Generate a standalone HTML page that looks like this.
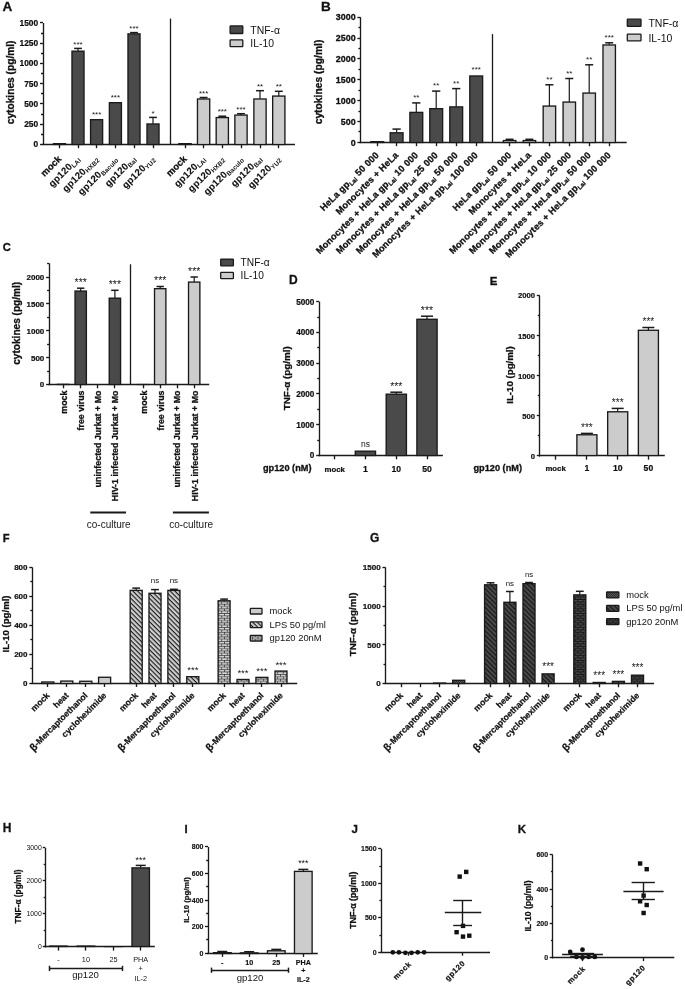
<!DOCTYPE html>
<html><head><meta charset="utf-8"><style>
html,body{margin:0;padding:0;background:#fff;}
svg{display:block;font-family:'Liberation Sans', Arial, sans-serif;filter:blur(0.3px);}
</style></head><body>
<svg width="685" height="989" viewBox="0 0 685 989">
<defs>
<pattern id="hatchL" patternUnits="userSpaceOnUse" width="3.3" height="3.3" patternTransform="rotate(45)">
<rect width="3.3" height="3.3" fill="#cfcfcf"/><rect y="0" width="3.3" height="1.15" fill="#1e1e1e"/></pattern>
<pattern id="hatchD" patternUnits="userSpaceOnUse" width="3.3" height="3.3" patternTransform="rotate(45)">
<rect width="3.3" height="3.3" fill="#4a4a4a"/><rect y="0" width="3.3" height="1.15" fill="#151515"/></pattern>
<pattern id="brickL" patternUnits="userSpaceOnUse" width="5.6" height="4.68">
<rect width="5.6" height="4.68" fill="#2a2a2a"/>
<rect x="0.7" y="0.75" width="4.9" height="1.6" fill="#dedede"/>
<rect x="-2.1" y="3.09" width="4.9" height="1.6" fill="#dedede"/><rect x="3.5" y="3.09" width="4.9" height="1.6" fill="#dedede"/>
</pattern>
<pattern id="brickD" patternUnits="userSpaceOnUse" width="5.4" height="4.68">
<rect width="5.4" height="4.68" fill="#141414"/>
<rect x="0.5" y="0.9" width="4.4" height="1.3" fill="#505050"/>
<rect x="-2.2" y="3.24" width="4.4" height="1.3" fill="#505050"/><rect x="3.2" y="3.24" width="4.4" height="1.3" fill="#505050"/>
</pattern>
<pattern id="dotD" patternUnits="userSpaceOnUse" width="2" height="2">
<rect width="2" height="2" fill="#2a2a2a"/><rect width="1" height="1" fill="#5a5a5a"/><rect x="1" y="1" width="1" height="1" fill="#5a5a5a"/>
</pattern>
</defs>
<rect width="685" height="989" fill="#fff"/>
<text x="2.60" y="10.70" font-size="13.5" font-weight="bold" stroke="#111" stroke-width="0.3" fill="#111">A</text>
<line x1="43.50" y1="23.00" x2="43.50" y2="145.08" stroke="#1a1a1a" stroke-width="1.35"/>
<line x1="40.00" y1="144.50" x2="43.00" y2="144.50" stroke="#1a1a1a" stroke-width="1.35"/>
<text x="38.20" y="147.42" font-size="8.4" font-weight="bold" stroke="#111" stroke-width="0.22" text-anchor="end" fill="#111">0</text>
<line x1="40.00" y1="124.50" x2="43.00" y2="124.50" stroke="#1a1a1a" stroke-width="1.35"/>
<text x="38.20" y="127.19" font-size="8.4" font-weight="bold" stroke="#111" stroke-width="0.22" text-anchor="end" fill="#111">250</text>
<line x1="40.00" y1="103.50" x2="43.00" y2="103.50" stroke="#1a1a1a" stroke-width="1.35"/>
<text x="38.20" y="106.96" font-size="8.4" font-weight="bold" stroke="#111" stroke-width="0.22" text-anchor="end" fill="#111">500</text>
<line x1="40.00" y1="83.50" x2="43.00" y2="83.50" stroke="#1a1a1a" stroke-width="1.35"/>
<text x="38.20" y="86.72" font-size="8.4" font-weight="bold" stroke="#111" stroke-width="0.22" text-anchor="end" fill="#111">750</text>
<line x1="40.00" y1="63.50" x2="43.00" y2="63.50" stroke="#1a1a1a" stroke-width="1.35"/>
<text x="38.20" y="66.49" font-size="8.4" font-weight="bold" stroke="#111" stroke-width="0.22" text-anchor="end" fill="#111">1000</text>
<line x1="40.00" y1="43.50" x2="43.00" y2="43.50" stroke="#1a1a1a" stroke-width="1.35"/>
<text x="38.20" y="46.26" font-size="8.4" font-weight="bold" stroke="#111" stroke-width="0.22" text-anchor="end" fill="#111">1250</text>
<line x1="40.00" y1="22.50" x2="43.00" y2="22.50" stroke="#1a1a1a" stroke-width="1.35"/>
<text x="38.20" y="26.02" font-size="8.4" font-weight="bold" stroke="#111" stroke-width="0.22" text-anchor="end" fill="#111">1500</text>
<line x1="41.00" y1="134.50" x2="43.00" y2="134.50" stroke="#1a1a1a" stroke-width="1.35"/>
<line x1="41.00" y1="114.50" x2="43.00" y2="114.50" stroke="#1a1a1a" stroke-width="1.35"/>
<line x1="41.00" y1="93.50" x2="43.00" y2="93.50" stroke="#1a1a1a" stroke-width="1.35"/>
<line x1="41.00" y1="73.50" x2="43.00" y2="73.50" stroke="#1a1a1a" stroke-width="1.35"/>
<line x1="41.00" y1="53.50" x2="43.00" y2="53.50" stroke="#1a1a1a" stroke-width="1.35"/>
<line x1="41.00" y1="33.50" x2="43.00" y2="33.50" stroke="#1a1a1a" stroke-width="1.35"/>
<text x="14.40" y="82.40" font-size="10.2" font-weight="bold" stroke="#111" stroke-width="0.3" text-anchor="middle" transform="rotate(-90 14.40 82.40)" fill="#111">cytokines (pg/ml)</text>
<line x1="42.33" y1="144.50" x2="295.00" y2="144.50" stroke="#1a1a1a" stroke-width="1.35"/>
<line x1="59.50" y1="144.40" x2="59.50" y2="148.20" stroke="#1a1a1a" stroke-width="1.35"/>
<line x1="78.50" y1="144.40" x2="78.50" y2="148.20" stroke="#1a1a1a" stroke-width="1.35"/>
<line x1="96.50" y1="144.40" x2="96.50" y2="148.20" stroke="#1a1a1a" stroke-width="1.35"/>
<line x1="115.50" y1="144.40" x2="115.50" y2="148.20" stroke="#1a1a1a" stroke-width="1.35"/>
<line x1="134.50" y1="144.40" x2="134.50" y2="148.20" stroke="#1a1a1a" stroke-width="1.35"/>
<line x1="153.50" y1="144.40" x2="153.50" y2="148.20" stroke="#1a1a1a" stroke-width="1.35"/>
<line x1="185.50" y1="144.40" x2="185.50" y2="148.20" stroke="#1a1a1a" stroke-width="1.35"/>
<line x1="203.50" y1="144.40" x2="203.50" y2="148.20" stroke="#1a1a1a" stroke-width="1.35"/>
<line x1="222.50" y1="144.40" x2="222.50" y2="148.20" stroke="#1a1a1a" stroke-width="1.35"/>
<line x1="241.50" y1="144.40" x2="241.50" y2="148.20" stroke="#1a1a1a" stroke-width="1.35"/>
<line x1="260.50" y1="144.40" x2="260.50" y2="148.20" stroke="#1a1a1a" stroke-width="1.35"/>
<line x1="278.50" y1="144.40" x2="278.50" y2="148.20" stroke="#1a1a1a" stroke-width="1.35"/>
<line x1="170.50" y1="18.60" x2="170.50" y2="144.40" stroke="#1a1a1a" stroke-width="1.3"/>
<rect x="52.80" y="143.00" width="13.40" height="2.10" fill="#1a1a1a"/>
<line x1="78.00" y1="48.40" x2="78.00" y2="51.00" stroke="#1a1a1a" stroke-width="1.2"/>
<line x1="74.11" y1="48.40" x2="81.89" y2="48.40" stroke="#1a1a1a" stroke-width="1.5"/>
<rect x="71.30" y="50.50" width="13.40" height="94.60" fill="#1a1a1a"/>
<rect x="72.65" y="51.85" width="10.70" height="92.05" fill="#4a4a4a"/>
<text x="78.00" y="46.56" font-size="8.0" text-anchor="middle" fill="#151515">***</text>
<rect x="89.90" y="119.00" width="13.40" height="26.10" fill="#1a1a1a"/>
<rect x="91.25" y="120.35" width="10.70" height="23.55" fill="#4a4a4a"/>
<text x="96.60" y="117.16" font-size="8.0" text-anchor="middle" fill="#151515">***</text>
<rect x="108.70" y="102.00" width="13.40" height="43.10" fill="#1a1a1a"/>
<rect x="110.05" y="103.35" width="10.70" height="40.55" fill="#4a4a4a"/>
<text x="115.40" y="100.16" font-size="8.0" text-anchor="middle" fill="#151515">***</text>
<line x1="134.00" y1="32.60" x2="134.00" y2="33.70" stroke="#1a1a1a" stroke-width="1.2"/>
<line x1="130.11" y1="32.60" x2="137.89" y2="32.60" stroke="#1a1a1a" stroke-width="1.5"/>
<rect x="127.30" y="33.20" width="13.40" height="111.90" fill="#1a1a1a"/>
<rect x="128.65" y="34.55" width="10.70" height="109.35" fill="#4a4a4a"/>
<text x="134.00" y="30.76" font-size="8.0" text-anchor="middle" fill="#151515">***</text>
<line x1="153.00" y1="117.40" x2="153.00" y2="123.80" stroke="#1a1a1a" stroke-width="1.2"/>
<line x1="149.11" y1="117.40" x2="156.89" y2="117.40" stroke="#1a1a1a" stroke-width="1.5"/>
<rect x="146.30" y="123.30" width="13.40" height="21.80" fill="#1a1a1a"/>
<rect x="147.65" y="124.65" width="10.70" height="19.25" fill="#4a4a4a"/>
<text x="153.00" y="115.56" font-size="8.0" text-anchor="middle" fill="#151515">*</text>
<rect x="178.20" y="143.00" width="13.60" height="2.10" fill="#1a1a1a"/>
<line x1="203.60" y1="97.50" x2="203.60" y2="98.80" stroke="#1a1a1a" stroke-width="1.2"/>
<line x1="199.66" y1="97.50" x2="207.54" y2="97.50" stroke="#1a1a1a" stroke-width="1.5"/>
<rect x="196.80" y="98.30" width="13.60" height="46.80" fill="#1a1a1a"/>
<rect x="198.15" y="99.65" width="10.90" height="44.25" fill="#cccccc"/>
<text x="203.60" y="95.66" font-size="8.0" text-anchor="middle" fill="#151515">***</text>
<line x1="222.30" y1="116.20" x2="222.30" y2="117.40" stroke="#1a1a1a" stroke-width="1.2"/>
<line x1="218.36" y1="116.20" x2="226.24" y2="116.20" stroke="#1a1a1a" stroke-width="1.5"/>
<rect x="215.50" y="116.90" width="13.60" height="28.20" fill="#1a1a1a"/>
<rect x="216.85" y="118.25" width="10.90" height="25.65" fill="#cccccc"/>
<text x="222.30" y="114.36" font-size="8.0" text-anchor="middle" fill="#151515">***</text>
<line x1="241.00" y1="113.70" x2="241.00" y2="114.90" stroke="#1a1a1a" stroke-width="1.2"/>
<line x1="237.06" y1="113.70" x2="244.94" y2="113.70" stroke="#1a1a1a" stroke-width="1.5"/>
<rect x="234.20" y="114.40" width="13.60" height="30.70" fill="#1a1a1a"/>
<rect x="235.55" y="115.75" width="10.90" height="28.15" fill="#cccccc"/>
<text x="241.00" y="111.86" font-size="8.0" text-anchor="middle" fill="#151515">***</text>
<line x1="260.00" y1="90.70" x2="260.00" y2="98.80" stroke="#1a1a1a" stroke-width="1.2"/>
<line x1="256.06" y1="90.70" x2="263.94" y2="90.70" stroke="#1a1a1a" stroke-width="1.5"/>
<rect x="253.20" y="98.30" width="13.60" height="46.80" fill="#1a1a1a"/>
<rect x="254.55" y="99.65" width="10.90" height="44.25" fill="#cccccc"/>
<text x="260.00" y="88.86" font-size="8.0" text-anchor="middle" fill="#151515">**</text>
<line x1="278.80" y1="91.30" x2="278.80" y2="95.90" stroke="#1a1a1a" stroke-width="1.2"/>
<line x1="274.86" y1="91.30" x2="282.74" y2="91.30" stroke="#1a1a1a" stroke-width="1.5"/>
<rect x="272.00" y="95.40" width="13.60" height="49.70" fill="#1a1a1a"/>
<rect x="273.35" y="96.75" width="10.90" height="47.15" fill="#cccccc"/>
<text x="278.80" y="89.46" font-size="8.0" text-anchor="middle" fill="#151515">**</text>
<rect x="230.10" y="25.90" width="12.70" height="7.60" fill="#4a4a4a" stroke="#1a1a1a" stroke-width="1.3" rx="0.6"/>
<rect x="230.10" y="39.80" width="12.70" height="6.80" fill="#cccccc" stroke="#1a1a1a" stroke-width="1.3" rx="0.6"/>
<text x="250.30" y="33.60" font-size="10.4" fill="#111">TNF-α</text>
<text x="250.30" y="47.30" font-size="10.4" fill="#111">IL-10</text>
<text x="61.90" y="159.60" font-size="9.0" font-weight="bold" stroke="#111" stroke-width="0.3" text-anchor="end" transform="rotate(-45 61.90 159.60)" fill="#111"><tspan font-size="9.4" dy="0">mock</tspan></text>
<text x="80.40" y="159.60" font-size="9.0" font-weight="bold" stroke="#111" stroke-width="0.3" text-anchor="end" transform="rotate(-45 80.40 159.60)" fill="#111"><tspan font-size="9.6" dy="0" stroke-width="0.1" letter-spacing="0.25">gp120</tspan><tspan font-size="6.4" dy="1.6" stroke-width="0" letter-spacing="0.1">LAI</tspan></text>
<text x="99.00" y="159.60" font-size="9.0" font-weight="bold" stroke="#111" stroke-width="0.3" text-anchor="end" transform="rotate(-45 99.00 159.60)" fill="#111"><tspan font-size="9.6" dy="0" stroke-width="0.1" letter-spacing="0.25">gp120</tspan><tspan font-size="6.4" dy="1.6" stroke-width="0" letter-spacing="0.1">HXB2</tspan></text>
<text x="117.80" y="159.60" font-size="9.0" font-weight="bold" stroke="#111" stroke-width="0.3" text-anchor="end" transform="rotate(-45 117.80 159.60)" fill="#111"><tspan font-size="9.6" dy="0" stroke-width="0.1" letter-spacing="0.25">gp120</tspan><tspan font-size="6.4" dy="1.6" stroke-width="0" letter-spacing="0.1">Baculo</tspan></text>
<text x="136.40" y="159.60" font-size="9.0" font-weight="bold" stroke="#111" stroke-width="0.3" text-anchor="end" transform="rotate(-45 136.40 159.60)" fill="#111"><tspan font-size="9.6" dy="0" stroke-width="0.1" letter-spacing="0.25">gp120</tspan><tspan font-size="6.4" dy="1.6" stroke-width="0" letter-spacing="0.1">Bal</tspan></text>
<text x="155.40" y="159.60" font-size="9.0" font-weight="bold" stroke="#111" stroke-width="0.3" text-anchor="end" transform="rotate(-45 155.40 159.60)" fill="#111"><tspan font-size="9.6" dy="0" stroke-width="0.1" letter-spacing="0.25">gp120</tspan><tspan font-size="6.4" dy="1.6" stroke-width="0" letter-spacing="0.1">YU2</tspan></text>
<text x="187.40" y="159.60" font-size="9.0" font-weight="bold" stroke="#111" stroke-width="0.3" text-anchor="end" transform="rotate(-45 187.40 159.60)" fill="#111"><tspan font-size="9.4" dy="0">mock</tspan></text>
<text x="206.00" y="159.60" font-size="9.0" font-weight="bold" stroke="#111" stroke-width="0.3" text-anchor="end" transform="rotate(-45 206.00 159.60)" fill="#111"><tspan font-size="9.6" dy="0" stroke-width="0.1" letter-spacing="0.25">gp120</tspan><tspan font-size="6.4" dy="1.6" stroke-width="0" letter-spacing="0.1">LAI</tspan></text>
<text x="224.70" y="159.60" font-size="9.0" font-weight="bold" stroke="#111" stroke-width="0.3" text-anchor="end" transform="rotate(-45 224.70 159.60)" fill="#111"><tspan font-size="9.6" dy="0" stroke-width="0.1" letter-spacing="0.25">gp120</tspan><tspan font-size="6.4" dy="1.6" stroke-width="0" letter-spacing="0.1">HXB2</tspan></text>
<text x="243.40" y="159.60" font-size="9.0" font-weight="bold" stroke="#111" stroke-width="0.3" text-anchor="end" transform="rotate(-45 243.40 159.60)" fill="#111"><tspan font-size="9.6" dy="0" stroke-width="0.1" letter-spacing="0.25">gp120</tspan><tspan font-size="6.4" dy="1.6" stroke-width="0" letter-spacing="0.1">Baculo</tspan></text>
<text x="262.40" y="159.60" font-size="9.0" font-weight="bold" stroke="#111" stroke-width="0.3" text-anchor="end" transform="rotate(-45 262.40 159.60)" fill="#111"><tspan font-size="9.6" dy="0" stroke-width="0.1" letter-spacing="0.25">gp120</tspan><tspan font-size="6.4" dy="1.6" stroke-width="0" letter-spacing="0.1">Bal</tspan></text>
<text x="281.20" y="159.60" font-size="9.0" font-weight="bold" stroke="#111" stroke-width="0.3" text-anchor="end" transform="rotate(-45 281.20 159.60)" fill="#111"><tspan font-size="9.6" dy="0" stroke-width="0.1" letter-spacing="0.25">gp120</tspan><tspan font-size="6.4" dy="1.6" stroke-width="0" letter-spacing="0.1">YU2</tspan></text>
<text x="321.00" y="10.70" font-size="13.5" font-weight="bold" stroke="#111" stroke-width="0.3" fill="#111">B</text>
<line x1="360.50" y1="17.20" x2="360.50" y2="143.08" stroke="#1a1a1a" stroke-width="1.35"/>
<line x1="357.40" y1="142.50" x2="360.40" y2="142.50" stroke="#1a1a1a" stroke-width="1.35"/>
<text x="355.60" y="145.60" font-size="8.9" font-weight="bold" stroke="#111" stroke-width="0.3" text-anchor="end" fill="#111">0</text>
<line x1="357.40" y1="121.50" x2="360.40" y2="121.50" stroke="#1a1a1a" stroke-width="1.35"/>
<text x="355.60" y="124.74" font-size="8.9" font-weight="bold" stroke="#111" stroke-width="0.3" text-anchor="end" fill="#111">500</text>
<line x1="357.40" y1="100.50" x2="360.40" y2="100.50" stroke="#1a1a1a" stroke-width="1.35"/>
<text x="355.60" y="103.87" font-size="8.9" font-weight="bold" stroke="#111" stroke-width="0.3" text-anchor="end" fill="#111">1000</text>
<line x1="357.40" y1="79.50" x2="360.40" y2="79.50" stroke="#1a1a1a" stroke-width="1.35"/>
<text x="355.60" y="83.00" font-size="8.9" font-weight="bold" stroke="#111" stroke-width="0.3" text-anchor="end" fill="#111">1500</text>
<line x1="357.40" y1="58.50" x2="360.40" y2="58.50" stroke="#1a1a1a" stroke-width="1.35"/>
<text x="355.60" y="62.14" font-size="8.9" font-weight="bold" stroke="#111" stroke-width="0.3" text-anchor="end" fill="#111">2000</text>
<line x1="357.40" y1="38.50" x2="360.40" y2="38.50" stroke="#1a1a1a" stroke-width="1.35"/>
<text x="355.60" y="41.27" font-size="8.9" font-weight="bold" stroke="#111" stroke-width="0.3" text-anchor="end" fill="#111">2500</text>
<line x1="357.40" y1="17.50" x2="360.40" y2="17.50" stroke="#1a1a1a" stroke-width="1.35"/>
<text x="355.60" y="20.40" font-size="8.9" font-weight="bold" stroke="#111" stroke-width="0.3" text-anchor="end" fill="#111">3000</text>
<line x1="358.40" y1="131.50" x2="360.40" y2="131.50" stroke="#1a1a1a" stroke-width="1.35"/>
<line x1="358.40" y1="111.50" x2="360.40" y2="111.50" stroke="#1a1a1a" stroke-width="1.35"/>
<line x1="358.40" y1="90.50" x2="360.40" y2="90.50" stroke="#1a1a1a" stroke-width="1.35"/>
<line x1="358.40" y1="69.50" x2="360.40" y2="69.50" stroke="#1a1a1a" stroke-width="1.35"/>
<line x1="358.40" y1="48.50" x2="360.40" y2="48.50" stroke="#1a1a1a" stroke-width="1.35"/>
<line x1="358.40" y1="27.50" x2="360.40" y2="27.50" stroke="#1a1a1a" stroke-width="1.35"/>
<text x="322.10" y="82.00" font-size="10.3" font-weight="bold" stroke="#111" stroke-width="0.3" text-anchor="middle" transform="rotate(-90 322.10 82.00)" fill="#111">cytokines (pg/ml)</text>
<line x1="359.72" y1="142.50" x2="626.70" y2="142.50" stroke="#1a1a1a" stroke-width="1.35"/>
<line x1="377.50" y1="142.40" x2="377.50" y2="146.20" stroke="#1a1a1a" stroke-width="1.35"/>
<line x1="396.50" y1="142.40" x2="396.50" y2="146.20" stroke="#1a1a1a" stroke-width="1.35"/>
<line x1="416.50" y1="142.40" x2="416.50" y2="146.20" stroke="#1a1a1a" stroke-width="1.35"/>
<line x1="436.50" y1="142.40" x2="436.50" y2="146.20" stroke="#1a1a1a" stroke-width="1.35"/>
<line x1="456.50" y1="142.40" x2="456.50" y2="146.20" stroke="#1a1a1a" stroke-width="1.35"/>
<line x1="476.50" y1="142.40" x2="476.50" y2="146.20" stroke="#1a1a1a" stroke-width="1.35"/>
<line x1="509.50" y1="142.40" x2="509.50" y2="146.20" stroke="#1a1a1a" stroke-width="1.35"/>
<line x1="529.50" y1="142.40" x2="529.50" y2="146.20" stroke="#1a1a1a" stroke-width="1.35"/>
<line x1="549.50" y1="142.40" x2="549.50" y2="146.20" stroke="#1a1a1a" stroke-width="1.35"/>
<line x1="569.50" y1="142.40" x2="569.50" y2="146.20" stroke="#1a1a1a" stroke-width="1.35"/>
<line x1="589.50" y1="142.40" x2="589.50" y2="146.20" stroke="#1a1a1a" stroke-width="1.35"/>
<line x1="609.50" y1="142.40" x2="609.50" y2="146.20" stroke="#1a1a1a" stroke-width="1.35"/>
<line x1="492.50" y1="34.10" x2="492.50" y2="142.40" stroke="#1a1a1a" stroke-width="1.3"/>
<rect x="370.10" y="141.00" width="14.20" height="2.10" fill="#1a1a1a"/>
<line x1="396.60" y1="129.10" x2="396.60" y2="132.60" stroke="#1a1a1a" stroke-width="1.2"/>
<line x1="392.48" y1="129.10" x2="400.72" y2="129.10" stroke="#1a1a1a" stroke-width="1.5"/>
<rect x="389.50" y="132.10" width="14.20" height="11.00" fill="#1a1a1a"/>
<rect x="390.85" y="133.45" width="11.50" height="8.45" fill="#4a4a4a"/>
<line x1="416.30" y1="102.90" x2="416.30" y2="112.20" stroke="#1a1a1a" stroke-width="1.2"/>
<line x1="412.18" y1="102.90" x2="420.42" y2="102.90" stroke="#1a1a1a" stroke-width="1.5"/>
<rect x="409.20" y="111.70" width="14.20" height="31.40" fill="#1a1a1a"/>
<rect x="410.55" y="113.05" width="11.50" height="28.85" fill="#4a4a4a"/>
<text x="416.30" y="99.96" font-size="8.0" text-anchor="middle" fill="#151515">**</text>
<line x1="436.20" y1="91.10" x2="436.20" y2="108.50" stroke="#1a1a1a" stroke-width="1.2"/>
<line x1="432.08" y1="91.10" x2="440.32" y2="91.10" stroke="#1a1a1a" stroke-width="1.5"/>
<rect x="429.10" y="108.00" width="14.20" height="35.10" fill="#1a1a1a"/>
<rect x="430.45" y="109.35" width="11.50" height="32.55" fill="#4a4a4a"/>
<text x="436.20" y="88.16" font-size="8.0" text-anchor="middle" fill="#151515">**</text>
<line x1="456.20" y1="88.60" x2="456.20" y2="106.70" stroke="#1a1a1a" stroke-width="1.2"/>
<line x1="452.08" y1="88.60" x2="460.32" y2="88.60" stroke="#1a1a1a" stroke-width="1.5"/>
<rect x="449.10" y="106.20" width="14.20" height="36.90" fill="#1a1a1a"/>
<rect x="450.45" y="107.55" width="11.50" height="34.35" fill="#4a4a4a"/>
<text x="456.20" y="85.66" font-size="8.0" text-anchor="middle" fill="#151515">**</text>
<rect x="469.10" y="75.30" width="14.20" height="67.80" fill="#1a1a1a"/>
<rect x="470.45" y="76.65" width="11.50" height="65.25" fill="#4a4a4a"/>
<text x="476.20" y="72.36" font-size="8.0" text-anchor="middle" fill="#151515">***</text>
<line x1="509.60" y1="139.30" x2="509.60" y2="140.40" stroke="#1a1a1a" stroke-width="1.2"/>
<line x1="505.60" y1="139.30" x2="513.60" y2="139.30" stroke="#1a1a1a" stroke-width="1.5"/>
<rect x="502.70" y="139.90" width="13.80" height="3.20" fill="#1a1a1a"/>
<rect x="504.05" y="141.25" width="11.10" height="0.65" fill="#cccccc"/>
<line x1="529.40" y1="139.30" x2="529.40" y2="140.40" stroke="#1a1a1a" stroke-width="1.2"/>
<line x1="525.40" y1="139.30" x2="533.40" y2="139.30" stroke="#1a1a1a" stroke-width="1.5"/>
<rect x="522.50" y="139.90" width="13.80" height="3.20" fill="#1a1a1a"/>
<rect x="523.85" y="141.25" width="11.10" height="0.65" fill="#cccccc"/>
<line x1="549.40" y1="84.80" x2="549.40" y2="105.90" stroke="#1a1a1a" stroke-width="1.2"/>
<line x1="545.40" y1="84.80" x2="553.40" y2="84.80" stroke="#1a1a1a" stroke-width="1.5"/>
<rect x="542.50" y="105.40" width="13.80" height="37.70" fill="#1a1a1a"/>
<rect x="543.85" y="106.75" width="11.10" height="35.15" fill="#cccccc"/>
<text x="549.40" y="81.86" font-size="8.0" text-anchor="middle" fill="#151515">**</text>
<line x1="569.30" y1="78.50" x2="569.30" y2="101.90" stroke="#1a1a1a" stroke-width="1.2"/>
<line x1="565.30" y1="78.50" x2="573.30" y2="78.50" stroke="#1a1a1a" stroke-width="1.5"/>
<rect x="562.40" y="101.40" width="13.80" height="41.70" fill="#1a1a1a"/>
<rect x="563.75" y="102.75" width="11.10" height="39.15" fill="#cccccc"/>
<text x="569.30" y="75.56" font-size="8.0" text-anchor="middle" fill="#151515">**</text>
<line x1="589.20" y1="64.80" x2="589.20" y2="92.90" stroke="#1a1a1a" stroke-width="1.2"/>
<line x1="585.20" y1="64.80" x2="593.20" y2="64.80" stroke="#1a1a1a" stroke-width="1.5"/>
<rect x="582.30" y="92.40" width="13.80" height="50.70" fill="#1a1a1a"/>
<rect x="583.65" y="93.75" width="11.10" height="48.15" fill="#cccccc"/>
<text x="589.20" y="61.86" font-size="8.0" text-anchor="middle" fill="#151515">**</text>
<line x1="609.20" y1="42.80" x2="609.20" y2="44.80" stroke="#1a1a1a" stroke-width="1.2"/>
<line x1="605.20" y1="42.80" x2="613.20" y2="42.80" stroke="#1a1a1a" stroke-width="1.5"/>
<rect x="602.30" y="44.30" width="13.80" height="98.80" fill="#1a1a1a"/>
<rect x="603.65" y="45.65" width="11.10" height="96.25" fill="#cccccc"/>
<text x="609.20" y="39.86" font-size="8.0" text-anchor="middle" fill="#151515">***</text>
<rect x="627.30" y="19.20" width="13.70" height="7.10" fill="#4a4a4a" stroke="#1a1a1a" stroke-width="1.3" rx="0.6"/>
<rect x="627.30" y="34.20" width="13.70" height="6.70" fill="#cccccc" stroke="#1a1a1a" stroke-width="1.3" rx="0.6"/>
<text x="648.40" y="26.90" font-size="10.5" fill="#111">TNF-α</text>
<text x="648.40" y="41.60" font-size="10.5" fill="#111">IL-10</text>
<text x="379.60" y="155.70" font-size="9.2" font-weight="bold" stroke="#111" stroke-width="0.3" text-anchor="end" transform="rotate(-45 379.60 155.70)" fill="#111" letter-spacing="0.2">HeLa gp<tspan font-size="6.0" dy="1.8">Lai</tspan><tspan font-size="9.2" dy="-1.8"> 50 000</tspan></text>
<text x="399.00" y="155.70" font-size="9.2" font-weight="bold" stroke="#111" stroke-width="0.3" text-anchor="end" transform="rotate(-45 399.00 155.70)" fill="#111" letter-spacing="0.2">Monocytes + HeLa</text>
<text x="418.70" y="155.70" font-size="9.2" font-weight="bold" stroke="#111" stroke-width="0.3" text-anchor="end" transform="rotate(-45 418.70 155.70)" fill="#111" letter-spacing="0.2">Monocytes + HeLa gp<tspan font-size="6.0" dy="1.8">Lai</tspan><tspan font-size="9.2" dy="-1.8"> 10 000</tspan></text>
<text x="438.60" y="155.70" font-size="9.2" font-weight="bold" stroke="#111" stroke-width="0.3" text-anchor="end" transform="rotate(-45 438.60 155.70)" fill="#111" letter-spacing="0.2">Monocytes + HeLa gp<tspan font-size="6.0" dy="1.8">Lai</tspan><tspan font-size="9.2" dy="-1.8"> 25 000</tspan></text>
<text x="458.60" y="155.70" font-size="9.2" font-weight="bold" stroke="#111" stroke-width="0.3" text-anchor="end" transform="rotate(-45 458.60 155.70)" fill="#111" letter-spacing="0.2">Monocytes + HeLa gp<tspan font-size="6.0" dy="1.8">Lai</tspan><tspan font-size="9.2" dy="-1.8"> 50 000</tspan></text>
<text x="478.60" y="155.70" font-size="9.2" font-weight="bold" stroke="#111" stroke-width="0.3" text-anchor="end" transform="rotate(-45 478.60 155.70)" fill="#111" letter-spacing="0.2">Monocytes + HeLa gp<tspan font-size="6.0" dy="1.8">Lai</tspan><tspan font-size="9.2" dy="-1.8"> 100 000</tspan></text>
<text x="512.00" y="155.70" font-size="9.2" font-weight="bold" stroke="#111" stroke-width="0.3" text-anchor="end" transform="rotate(-45 512.00 155.70)" fill="#111" letter-spacing="0.2">HeLa gp<tspan font-size="6.0" dy="1.8">Lai</tspan><tspan font-size="9.2" dy="-1.8"> 50 000</tspan></text>
<text x="531.80" y="155.70" font-size="9.2" font-weight="bold" stroke="#111" stroke-width="0.3" text-anchor="end" transform="rotate(-45 531.80 155.70)" fill="#111" letter-spacing="0.2">Monocytes + HeLa</text>
<text x="551.80" y="155.70" font-size="9.2" font-weight="bold" stroke="#111" stroke-width="0.3" text-anchor="end" transform="rotate(-45 551.80 155.70)" fill="#111" letter-spacing="0.2">Monocytes + HeLa gp<tspan font-size="6.0" dy="1.8">Lai</tspan><tspan font-size="9.2" dy="-1.8"> 10 000</tspan></text>
<text x="571.70" y="155.70" font-size="9.2" font-weight="bold" stroke="#111" stroke-width="0.3" text-anchor="end" transform="rotate(-45 571.70 155.70)" fill="#111" letter-spacing="0.2">Monocytes + HeLa gp<tspan font-size="6.0" dy="1.8">Lai</tspan><tspan font-size="9.2" dy="-1.8"> 25 000</tspan></text>
<text x="591.60" y="155.70" font-size="9.2" font-weight="bold" stroke="#111" stroke-width="0.3" text-anchor="end" transform="rotate(-45 591.60 155.70)" fill="#111" letter-spacing="0.2">Monocytes + HeLa gp<tspan font-size="6.0" dy="1.8">Lai</tspan><tspan font-size="9.2" dy="-1.8"> 50 000</tspan></text>
<text x="611.60" y="155.70" font-size="9.2" font-weight="bold" stroke="#111" stroke-width="0.3" text-anchor="end" transform="rotate(-45 611.60 155.70)" fill="#111" letter-spacing="0.2">Monocytes + HeLa gp<tspan font-size="6.0" dy="1.8">Lai</tspan><tspan font-size="9.2" dy="-1.8"> 100 000</tspan></text>
<text x="2.70" y="250.80" font-size="11.2" font-weight="bold" stroke="#111" stroke-width="0.3" fill="#111">C</text>
<line x1="49.50" y1="263.30" x2="49.50" y2="385.18" stroke="#1a1a1a" stroke-width="1.35"/>
<line x1="46.10" y1="384.50" x2="49.10" y2="384.50" stroke="#1a1a1a" stroke-width="1.35"/>
<text x="44.30" y="387.38" font-size="8.0" font-weight="bold" stroke="#111" stroke-width="0.22" text-anchor="end" fill="#111">0</text>
<line x1="46.10" y1="357.50" x2="49.10" y2="357.50" stroke="#1a1a1a" stroke-width="1.35"/>
<text x="44.30" y="360.50" font-size="8.0" font-weight="bold" stroke="#111" stroke-width="0.22" text-anchor="end" fill="#111">500</text>
<line x1="46.10" y1="330.50" x2="49.10" y2="330.50" stroke="#1a1a1a" stroke-width="1.35"/>
<text x="44.30" y="333.63" font-size="8.0" font-weight="bold" stroke="#111" stroke-width="0.22" text-anchor="end" fill="#111">1000</text>
<line x1="46.10" y1="303.50" x2="49.10" y2="303.50" stroke="#1a1a1a" stroke-width="1.35"/>
<text x="44.30" y="306.75" font-size="8.0" font-weight="bold" stroke="#111" stroke-width="0.22" text-anchor="end" fill="#111">1500</text>
<line x1="46.10" y1="277.50" x2="49.10" y2="277.50" stroke="#1a1a1a" stroke-width="1.35"/>
<text x="44.30" y="279.88" font-size="8.0" font-weight="bold" stroke="#111" stroke-width="0.22" text-anchor="end" fill="#111">2000</text>
<line x1="47.10" y1="371.50" x2="49.10" y2="371.50" stroke="#1a1a1a" stroke-width="1.35"/>
<line x1="47.10" y1="344.50" x2="49.10" y2="344.50" stroke="#1a1a1a" stroke-width="1.35"/>
<line x1="47.10" y1="317.50" x2="49.10" y2="317.50" stroke="#1a1a1a" stroke-width="1.35"/>
<line x1="47.10" y1="290.50" x2="49.10" y2="290.50" stroke="#1a1a1a" stroke-width="1.35"/>
<line x1="47.10" y1="263.50" x2="49.10" y2="263.50" stroke="#1a1a1a" stroke-width="1.35"/>
<text x="19.90" y="323.30" font-size="10.1" font-weight="bold" stroke="#111" stroke-width="0.3" text-anchor="middle" transform="rotate(-90 19.90 323.30)" fill="#111">cytokines (pg/ml)</text>
<line x1="48.43" y1="384.50" x2="209.20" y2="384.50" stroke="#1a1a1a" stroke-width="1.35"/>
<line x1="63.50" y1="384.50" x2="63.50" y2="388.30" stroke="#1a1a1a" stroke-width="1.35"/>
<line x1="80.50" y1="384.50" x2="80.50" y2="388.30" stroke="#1a1a1a" stroke-width="1.35"/>
<line x1="97.50" y1="384.50" x2="97.50" y2="388.30" stroke="#1a1a1a" stroke-width="1.35"/>
<line x1="114.50" y1="384.50" x2="114.50" y2="388.30" stroke="#1a1a1a" stroke-width="1.35"/>
<line x1="143.50" y1="384.50" x2="143.50" y2="388.30" stroke="#1a1a1a" stroke-width="1.35"/>
<line x1="160.50" y1="384.50" x2="160.50" y2="388.30" stroke="#1a1a1a" stroke-width="1.35"/>
<line x1="177.50" y1="384.50" x2="177.50" y2="388.30" stroke="#1a1a1a" stroke-width="1.35"/>
<line x1="194.50" y1="384.50" x2="194.50" y2="388.30" stroke="#1a1a1a" stroke-width="1.35"/>
<line x1="130.50" y1="264.30" x2="130.50" y2="384.50" stroke="#1a1a1a" stroke-width="1.3"/>
<rect x="56.85" y="383.70" width="12.70" height="1.40" fill="#1a1a1a"/>
<line x1="80.70" y1="288.20" x2="80.70" y2="290.90" stroke="#1a1a1a" stroke-width="1.2"/>
<line x1="77.02" y1="288.20" x2="84.38" y2="288.20" stroke="#1a1a1a" stroke-width="1.5"/>
<rect x="74.35" y="290.40" width="12.70" height="94.70" fill="#1a1a1a"/>
<rect x="75.70" y="291.75" width="10.00" height="92.15" fill="#4a4a4a"/>
<text x="80.70" y="286.16" font-size="10.5" text-anchor="middle" fill="#151515">***</text>
<line x1="114.90" y1="290.30" x2="114.90" y2="298.00" stroke="#1a1a1a" stroke-width="1.2"/>
<line x1="111.22" y1="290.30" x2="118.58" y2="290.30" stroke="#1a1a1a" stroke-width="1.5"/>
<rect x="108.55" y="297.50" width="12.70" height="87.60" fill="#1a1a1a"/>
<rect x="109.90" y="298.85" width="10.00" height="85.05" fill="#4a4a4a"/>
<text x="114.90" y="288.26" font-size="10.5" text-anchor="middle" fill="#151515">***</text>
<rect x="136.85" y="383.90" width="12.70" height="1.20" fill="#1a1a1a"/>
<line x1="160.20" y1="286.50" x2="160.20" y2="288.50" stroke="#1a1a1a" stroke-width="1.2"/>
<line x1="156.52" y1="286.50" x2="163.88" y2="286.50" stroke="#1a1a1a" stroke-width="1.5"/>
<rect x="153.85" y="288.00" width="12.70" height="97.10" fill="#1a1a1a"/>
<rect x="155.20" y="289.35" width="10.00" height="94.55" fill="#cccccc"/>
<text x="160.20" y="284.46" font-size="10.5" text-anchor="middle" fill="#151515">***</text>
<line x1="194.20" y1="277.00" x2="194.20" y2="281.90" stroke="#1a1a1a" stroke-width="1.2"/>
<line x1="190.52" y1="277.00" x2="197.88" y2="277.00" stroke="#1a1a1a" stroke-width="1.5"/>
<rect x="187.85" y="281.40" width="12.70" height="103.70" fill="#1a1a1a"/>
<rect x="189.20" y="282.75" width="10.00" height="101.15" fill="#cccccc"/>
<text x="194.20" y="274.96" font-size="10.5" text-anchor="middle" fill="#151515">***</text>
<rect x="220.70" y="259.10" width="12.70" height="6.80" fill="#4a4a4a" stroke="#1a1a1a" stroke-width="1.3" rx="0.6"/>
<rect x="220.70" y="272.40" width="12.70" height="6.30" fill="#cccccc" stroke="#1a1a1a" stroke-width="1.3" rx="0.6"/>
<text x="240.60" y="266.30" font-size="10.2" fill="#111">TNF-α</text>
<text x="240.60" y="279.10" font-size="10.2" fill="#111">IL-10</text>
<text x="66.60" y="390.50" font-size="8.9" font-weight="bold" stroke="#111" stroke-width="0.3" text-anchor="end" transform="rotate(-90 66.60 390.50)" fill="#111">mock</text>
<text x="84.10" y="390.50" font-size="8.9" font-weight="bold" stroke="#111" stroke-width="0.3" text-anchor="end" transform="rotate(-90 84.10 390.50)" fill="#111">free virus</text>
<text x="101.30" y="390.50" font-size="8.9" font-weight="bold" stroke="#111" stroke-width="0.3" text-anchor="end" transform="rotate(-90 101.30 390.50)" fill="#111">uninfected Jurkat + Mo</text>
<text x="118.30" y="390.50" font-size="8.9" font-weight="bold" stroke="#111" stroke-width="0.3" text-anchor="end" transform="rotate(-90 118.30 390.50)" fill="#111">HIV-1 infected Jurkat + Mo</text>
<text x="146.60" y="390.50" font-size="8.9" font-weight="bold" stroke="#111" stroke-width="0.3" text-anchor="end" transform="rotate(-90 146.60 390.50)" fill="#111">mock</text>
<text x="163.60" y="390.50" font-size="8.9" font-weight="bold" stroke="#111" stroke-width="0.3" text-anchor="end" transform="rotate(-90 163.60 390.50)" fill="#111">free virus</text>
<text x="180.40" y="390.50" font-size="8.9" font-weight="bold" stroke="#111" stroke-width="0.3" text-anchor="end" transform="rotate(-90 180.40 390.50)" fill="#111">uninfected Jurkat + Mo</text>
<text x="197.60" y="390.50" font-size="8.9" font-weight="bold" stroke="#111" stroke-width="0.3" text-anchor="end" transform="rotate(-90 197.60 390.50)" fill="#111">HIV-1 infected Jurkat + Mo</text>
<line x1="90.30" y1="512.50" x2="126.00" y2="512.50" stroke="#1a1a1a" stroke-width="1.9"/>
<line x1="172.90" y1="512.50" x2="208.90" y2="512.50" stroke="#1a1a1a" stroke-width="1.9"/>
<text x="108.70" y="527.70" font-size="10.0" text-anchor="middle" fill="#1a1a1a">co-culture</text>
<text x="191.10" y="527.70" font-size="10.0" text-anchor="middle" fill="#1a1a1a">co-culture</text>
<text x="289.00" y="283.70" font-size="12.0" font-weight="bold" stroke="#111" stroke-width="0.3" fill="#111">D</text>
<line x1="319.50" y1="301.70" x2="319.50" y2="456.18" stroke="#1a1a1a" stroke-width="1.35"/>
<line x1="316.20" y1="455.50" x2="319.20" y2="455.50" stroke="#1a1a1a" stroke-width="1.35"/>
<text x="314.40" y="458.45" font-size="8.2" font-weight="bold" stroke="#111" stroke-width="0.22" text-anchor="end" fill="#111">0</text>
<line x1="316.20" y1="424.50" x2="319.20" y2="424.50" stroke="#1a1a1a" stroke-width="1.35"/>
<text x="314.40" y="427.69" font-size="8.2" font-weight="bold" stroke="#111" stroke-width="0.22" text-anchor="end" fill="#111">1000</text>
<line x1="316.20" y1="393.50" x2="319.20" y2="393.50" stroke="#1a1a1a" stroke-width="1.35"/>
<text x="314.40" y="396.93" font-size="8.2" font-weight="bold" stroke="#111" stroke-width="0.22" text-anchor="end" fill="#111">2000</text>
<line x1="316.20" y1="363.50" x2="319.20" y2="363.50" stroke="#1a1a1a" stroke-width="1.35"/>
<text x="314.40" y="366.17" font-size="8.2" font-weight="bold" stroke="#111" stroke-width="0.22" text-anchor="end" fill="#111">3000</text>
<line x1="316.20" y1="332.50" x2="319.20" y2="332.50" stroke="#1a1a1a" stroke-width="1.35"/>
<text x="314.40" y="335.41" font-size="8.2" font-weight="bold" stroke="#111" stroke-width="0.22" text-anchor="end" fill="#111">4000</text>
<line x1="316.20" y1="301.50" x2="319.20" y2="301.50" stroke="#1a1a1a" stroke-width="1.35"/>
<text x="314.40" y="304.65" font-size="8.2" font-weight="bold" stroke="#111" stroke-width="0.22" text-anchor="end" fill="#111">5000</text>
<line x1="317.20" y1="440.50" x2="319.20" y2="440.50" stroke="#1a1a1a" stroke-width="1.35"/>
<line x1="317.20" y1="409.50" x2="319.20" y2="409.50" stroke="#1a1a1a" stroke-width="1.35"/>
<line x1="317.20" y1="378.50" x2="319.20" y2="378.50" stroke="#1a1a1a" stroke-width="1.35"/>
<line x1="317.20" y1="347.50" x2="319.20" y2="347.50" stroke="#1a1a1a" stroke-width="1.35"/>
<line x1="317.20" y1="317.50" x2="319.20" y2="317.50" stroke="#1a1a1a" stroke-width="1.35"/>
<text x="289.90" y="378.20" font-size="9.9" font-weight="bold" stroke="#111" stroke-width="0.3" text-anchor="middle" transform="rotate(-90 289.90 378.20)" fill="#111">TNF-α (pg/ml)</text>
<line x1="318.52" y1="455.50" x2="442.90" y2="455.50" stroke="#1a1a1a" stroke-width="1.35"/>
<line x1="334.50" y1="455.50" x2="334.50" y2="459.30" stroke="#1a1a1a" stroke-width="1.35"/>
<line x1="365.50" y1="455.50" x2="365.50" y2="459.30" stroke="#1a1a1a" stroke-width="1.35"/>
<line x1="396.50" y1="455.50" x2="396.50" y2="459.30" stroke="#1a1a1a" stroke-width="1.35"/>
<line x1="427.50" y1="455.50" x2="427.50" y2="459.30" stroke="#1a1a1a" stroke-width="1.35"/>
<rect x="354.60" y="450.50" width="21.60" height="5.60" fill="#1a1a1a"/>
<rect x="355.95" y="451.85" width="18.90" height="3.05" fill="#4a4a4a"/>
<text x="365.40" y="447.00" font-size="8.5" text-anchor="middle" fill="#151515">ns</text>
<line x1="396.30" y1="392.20" x2="396.30" y2="394.00" stroke="#1a1a1a" stroke-width="1.2"/>
<line x1="390.30" y1="392.20" x2="402.30" y2="392.20" stroke="#1a1a1a" stroke-width="1.5"/>
<rect x="385.50" y="393.50" width="21.60" height="62.60" fill="#1a1a1a"/>
<rect x="386.85" y="394.85" width="18.90" height="60.05" fill="#4a4a4a"/>
<text x="396.30" y="389.76" font-size="10.5" text-anchor="middle" fill="#151515">***</text>
<line x1="427.00" y1="316.20" x2="427.00" y2="319.10" stroke="#1a1a1a" stroke-width="1.2"/>
<line x1="421.00" y1="316.20" x2="433.00" y2="316.20" stroke="#1a1a1a" stroke-width="1.5"/>
<rect x="416.20" y="318.60" width="21.60" height="137.50" fill="#1a1a1a"/>
<rect x="417.55" y="319.95" width="18.90" height="134.95" fill="#4a4a4a"/>
<text x="427.00" y="313.76" font-size="10.5" text-anchor="middle" fill="#151515">***</text>
<text x="334.70" y="471.80" font-size="7.8" font-weight="bold" stroke="#111" stroke-width="0.22" text-anchor="middle" fill="#111">mock</text>
<text x="365.40" y="471.80" font-size="8.6" font-weight="bold" stroke="#111" stroke-width="0.22" text-anchor="middle" fill="#111">1</text>
<text x="396.30" y="471.80" font-size="8.6" font-weight="bold" stroke="#111" stroke-width="0.22" text-anchor="middle" fill="#111">10</text>
<text x="427.00" y="471.80" font-size="8.6" font-weight="bold" stroke="#111" stroke-width="0.22" text-anchor="middle" fill="#111">50</text>
<text x="311.50" y="471.20" font-size="9.2" font-weight="bold" stroke="#111" stroke-width="0.3" text-anchor="end" fill="#111">gp120 (nM)</text>
<text x="489.80" y="284.60" font-size="11.5" font-weight="bold" stroke="#111" stroke-width="0.3" fill="#111">E</text>
<line x1="539.50" y1="295.70" x2="539.50" y2="456.57" stroke="#1a1a1a" stroke-width="1.35"/>
<line x1="536.80" y1="455.50" x2="539.80" y2="455.50" stroke="#1a1a1a" stroke-width="1.35"/>
<text x="535.00" y="458.67" font-size="7.7" font-weight="bold" stroke="#111" stroke-width="0.22" text-anchor="end" fill="#111">0</text>
<line x1="536.80" y1="415.50" x2="539.80" y2="415.50" stroke="#1a1a1a" stroke-width="1.35"/>
<text x="535.00" y="418.62" font-size="7.7" font-weight="bold" stroke="#111" stroke-width="0.22" text-anchor="end" fill="#111">500</text>
<line x1="536.80" y1="375.50" x2="539.80" y2="375.50" stroke="#1a1a1a" stroke-width="1.35"/>
<text x="535.00" y="378.57" font-size="7.7" font-weight="bold" stroke="#111" stroke-width="0.22" text-anchor="end" fill="#111">1000</text>
<line x1="536.80" y1="335.50" x2="539.80" y2="335.50" stroke="#1a1a1a" stroke-width="1.35"/>
<text x="535.00" y="338.52" font-size="7.7" font-weight="bold" stroke="#111" stroke-width="0.22" text-anchor="end" fill="#111">1500</text>
<line x1="536.80" y1="295.50" x2="539.80" y2="295.50" stroke="#1a1a1a" stroke-width="1.35"/>
<text x="535.00" y="298.47" font-size="7.7" font-weight="bold" stroke="#111" stroke-width="0.22" text-anchor="end" fill="#111">2000</text>
<line x1="537.80" y1="435.50" x2="539.80" y2="435.50" stroke="#1a1a1a" stroke-width="1.35"/>
<line x1="537.80" y1="395.50" x2="539.80" y2="395.50" stroke="#1a1a1a" stroke-width="1.35"/>
<line x1="537.80" y1="355.50" x2="539.80" y2="355.50" stroke="#1a1a1a" stroke-width="1.35"/>
<line x1="537.80" y1="315.50" x2="539.80" y2="315.50" stroke="#1a1a1a" stroke-width="1.35"/>
<text x="512.80" y="375.00" font-size="9.7" font-weight="bold" stroke="#111" stroke-width="0.3" text-anchor="middle" transform="rotate(-90 512.80 375.00)" fill="#111">IL-10 (pg/ml)</text>
<line x1="539.12" y1="455.50" x2="664.80" y2="455.50" stroke="#1a1a1a" stroke-width="1.35"/>
<line x1="555.50" y1="455.90" x2="555.50" y2="459.70" stroke="#1a1a1a" stroke-width="1.35"/>
<line x1="586.50" y1="455.90" x2="586.50" y2="459.70" stroke="#1a1a1a" stroke-width="1.35"/>
<line x1="617.50" y1="455.90" x2="617.50" y2="459.70" stroke="#1a1a1a" stroke-width="1.35"/>
<line x1="648.50" y1="455.90" x2="648.50" y2="459.70" stroke="#1a1a1a" stroke-width="1.35"/>
<line x1="586.90" y1="433.40" x2="586.90" y2="434.60" stroke="#1a1a1a" stroke-width="1.2"/>
<line x1="580.90" y1="433.40" x2="592.90" y2="433.40" stroke="#1a1a1a" stroke-width="1.5"/>
<rect x="576.20" y="434.10" width="21.40" height="22.00" fill="#1a1a1a"/>
<rect x="577.55" y="435.45" width="18.70" height="19.45" fill="#cccccc"/>
<text x="586.90" y="430.60" font-size="10.0" text-anchor="middle" fill="#151515">***</text>
<line x1="617.70" y1="408.40" x2="617.70" y2="411.60" stroke="#1a1a1a" stroke-width="1.2"/>
<line x1="611.70" y1="408.40" x2="623.70" y2="408.40" stroke="#1a1a1a" stroke-width="1.5"/>
<rect x="607.00" y="411.10" width="21.40" height="45.00" fill="#1a1a1a"/>
<rect x="608.35" y="412.45" width="18.70" height="42.45" fill="#cccccc"/>
<text x="617.70" y="405.60" font-size="10.0" text-anchor="middle" fill="#151515">***</text>
<line x1="648.40" y1="327.50" x2="648.40" y2="330.10" stroke="#1a1a1a" stroke-width="1.2"/>
<line x1="642.40" y1="327.50" x2="654.40" y2="327.50" stroke="#1a1a1a" stroke-width="1.5"/>
<rect x="637.70" y="329.60" width="21.40" height="126.50" fill="#1a1a1a"/>
<rect x="639.05" y="330.95" width="18.70" height="123.95" fill="#cccccc"/>
<text x="648.40" y="324.70" font-size="10.0" text-anchor="middle" fill="#151515">***</text>
<text x="555.60" y="471.10" font-size="7.8" font-weight="bold" stroke="#111" stroke-width="0.22" text-anchor="middle" fill="#111">mock</text>
<text x="586.90" y="471.10" font-size="8.6" font-weight="bold" stroke="#111" stroke-width="0.22" text-anchor="middle" fill="#111">1</text>
<text x="617.70" y="471.10" font-size="8.6" font-weight="bold" stroke="#111" stroke-width="0.22" text-anchor="middle" fill="#111">10</text>
<text x="648.40" y="471.10" font-size="8.6" font-weight="bold" stroke="#111" stroke-width="0.22" text-anchor="middle" fill="#111">50</text>
<text x="522.00" y="471.00" font-size="9.2" font-weight="bold" stroke="#111" stroke-width="0.3" text-anchor="end" fill="#111">gp120 (nM)</text>
<text x="2.80" y="541.90" font-size="11.2" font-weight="bold" stroke="#111" stroke-width="0.3" fill="#111">F</text>
<line x1="32.50" y1="567.40" x2="32.50" y2="683.88" stroke="#1a1a1a" stroke-width="1.35"/>
<line x1="29.30" y1="683.50" x2="32.30" y2="683.50" stroke="#1a1a1a" stroke-width="1.35"/>
<text x="27.50" y="686.08" font-size="8.0" font-weight="bold" stroke="#111" stroke-width="0.22" text-anchor="end" fill="#111">0</text>
<line x1="29.30" y1="654.50" x2="32.30" y2="654.50" stroke="#1a1a1a" stroke-width="1.35"/>
<text x="27.50" y="657.13" font-size="8.0" font-weight="bold" stroke="#111" stroke-width="0.22" text-anchor="end" fill="#111">200</text>
<line x1="29.30" y1="625.50" x2="32.30" y2="625.50" stroke="#1a1a1a" stroke-width="1.35"/>
<text x="27.50" y="628.18" font-size="8.0" font-weight="bold" stroke="#111" stroke-width="0.22" text-anchor="end" fill="#111">400</text>
<line x1="29.30" y1="596.50" x2="32.30" y2="596.50" stroke="#1a1a1a" stroke-width="1.35"/>
<text x="27.50" y="599.23" font-size="8.0" font-weight="bold" stroke="#111" stroke-width="0.22" text-anchor="end" fill="#111">600</text>
<line x1="29.30" y1="567.50" x2="32.30" y2="567.50" stroke="#1a1a1a" stroke-width="1.35"/>
<text x="27.50" y="570.28" font-size="8.0" font-weight="bold" stroke="#111" stroke-width="0.22" text-anchor="end" fill="#111">800</text>
<line x1="30.30" y1="668.50" x2="32.30" y2="668.50" stroke="#1a1a1a" stroke-width="1.35"/>
<line x1="30.30" y1="639.50" x2="32.30" y2="639.50" stroke="#1a1a1a" stroke-width="1.35"/>
<line x1="30.30" y1="610.50" x2="32.30" y2="610.50" stroke="#1a1a1a" stroke-width="1.35"/>
<line x1="30.30" y1="581.50" x2="32.30" y2="581.50" stroke="#1a1a1a" stroke-width="1.35"/>
<text x="8.80" y="624.00" font-size="9.6" font-weight="bold" stroke="#111" stroke-width="0.3" text-anchor="middle" transform="rotate(-90 8.80 624.00)" fill="#111">IL-10 (pg/ml)</text>
<line x1="31.62" y1="683.50" x2="297.20" y2="683.50" stroke="#1a1a1a" stroke-width="1.35"/>
<line x1="47.50" y1="683.20" x2="47.50" y2="687.00" stroke="#1a1a1a" stroke-width="1.35"/>
<line x1="66.50" y1="683.20" x2="66.50" y2="687.00" stroke="#1a1a1a" stroke-width="1.35"/>
<line x1="85.50" y1="683.20" x2="85.50" y2="687.00" stroke="#1a1a1a" stroke-width="1.35"/>
<line x1="104.50" y1="683.20" x2="104.50" y2="687.00" stroke="#1a1a1a" stroke-width="1.35"/>
<line x1="136.50" y1="683.20" x2="136.50" y2="687.00" stroke="#1a1a1a" stroke-width="1.35"/>
<line x1="155.50" y1="683.20" x2="155.50" y2="687.00" stroke="#1a1a1a" stroke-width="1.35"/>
<line x1="173.50" y1="683.20" x2="173.50" y2="687.00" stroke="#1a1a1a" stroke-width="1.35"/>
<line x1="192.50" y1="683.20" x2="192.50" y2="687.00" stroke="#1a1a1a" stroke-width="1.35"/>
<line x1="224.50" y1="683.20" x2="224.50" y2="687.00" stroke="#1a1a1a" stroke-width="1.35"/>
<line x1="243.50" y1="683.20" x2="243.50" y2="687.00" stroke="#1a1a1a" stroke-width="1.35"/>
<line x1="261.50" y1="683.20" x2="261.50" y2="687.00" stroke="#1a1a1a" stroke-width="1.35"/>
<line x1="281.50" y1="683.20" x2="281.50" y2="687.00" stroke="#1a1a1a" stroke-width="1.35"/>
<rect x="41.10" y="681.30" width="13.40" height="2.80" fill="#1a1a1a"/>
<rect x="42.45" y="682.65" width="10.70" height="0.25" fill="#cccccc"/>
<rect x="60.10" y="680.40" width="13.40" height="3.70" fill="#1a1a1a"/>
<rect x="61.45" y="681.75" width="10.70" height="1.15" fill="#cccccc"/>
<rect x="79.10" y="680.60" width="13.40" height="3.50" fill="#1a1a1a"/>
<rect x="80.45" y="681.95" width="10.70" height="0.95" fill="#cccccc"/>
<rect x="97.90" y="676.60" width="13.40" height="7.50" fill="#1a1a1a"/>
<rect x="99.25" y="677.95" width="10.70" height="4.95" fill="#cccccc"/>
<line x1="136.20" y1="588.10" x2="136.20" y2="590.20" stroke="#1a1a1a" stroke-width="1.2"/>
<line x1="132.31" y1="588.10" x2="140.09" y2="588.10" stroke="#1a1a1a" stroke-width="1.5"/>
<rect x="129.50" y="589.70" width="13.40" height="94.40" fill="#1a1a1a"/>
<rect x="130.85" y="591.05" width="10.70" height="91.85" fill="url(#hatchL)"/>
<line x1="155.00" y1="589.60" x2="155.00" y2="593.10" stroke="#1a1a1a" stroke-width="1.2"/>
<line x1="151.11" y1="589.60" x2="158.89" y2="589.60" stroke="#1a1a1a" stroke-width="1.5"/>
<rect x="148.30" y="592.60" width="13.40" height="91.50" fill="#1a1a1a"/>
<rect x="149.65" y="593.95" width="10.70" height="88.95" fill="url(#hatchL)"/>
<text x="155.00" y="583.26" font-size="8.0" text-anchor="middle" fill="#151515">ns</text>
<line x1="173.90" y1="589.30" x2="173.90" y2="590.20" stroke="#1a1a1a" stroke-width="1.2"/>
<line x1="170.01" y1="589.30" x2="177.79" y2="589.30" stroke="#1a1a1a" stroke-width="1.5"/>
<rect x="167.20" y="589.70" width="13.40" height="94.40" fill="#1a1a1a"/>
<rect x="168.55" y="591.05" width="10.70" height="91.85" fill="url(#hatchL)"/>
<text x="173.90" y="582.96" font-size="8.0" text-anchor="middle" fill="#151515">ns</text>
<rect x="186.10" y="676.00" width="13.40" height="8.10" fill="#1a1a1a"/>
<rect x="187.45" y="677.35" width="10.70" height="5.55" fill="url(#hatchL)"/>
<text x="192.80" y="673.49" font-size="9.6" text-anchor="middle" fill="#151515">***</text>
<line x1="224.10" y1="599.10" x2="224.10" y2="600.60" stroke="#1a1a1a" stroke-width="1.2"/>
<line x1="220.24" y1="599.10" x2="227.96" y2="599.10" stroke="#1a1a1a" stroke-width="1.5"/>
<rect x="217.45" y="600.10" width="13.30" height="84.00" fill="#1a1a1a"/>
<rect x="218.80" y="601.45" width="10.60" height="81.45" fill="url(#brickL)"/>
<rect x="236.35" y="678.80" width="13.30" height="5.30" fill="#1a1a1a"/>
<rect x="237.70" y="680.15" width="10.60" height="2.75" fill="url(#brickL)"/>
<text x="243.00" y="676.29" font-size="9.6" text-anchor="middle" fill="#151515">***</text>
<rect x="255.25" y="676.70" width="13.30" height="7.40" fill="#1a1a1a"/>
<rect x="256.60" y="678.05" width="10.60" height="4.85" fill="url(#brickL)"/>
<text x="261.90" y="674.19" font-size="9.6" text-anchor="middle" fill="#151515">***</text>
<rect x="274.35" y="670.40" width="13.30" height="13.70" fill="#1a1a1a"/>
<rect x="275.70" y="671.75" width="10.60" height="11.15" fill="url(#brickL)"/>
<text x="281.00" y="667.89" font-size="9.6" text-anchor="middle" fill="#151515">***</text>
<rect x="250.30" y="608.30" width="11.70" height="5.70" fill="#cccccc" stroke="#1a1a1a" stroke-width="1.3" rx="0.6"/>
<rect x="250.30" y="621.90" width="11.70" height="5.80" fill="url(#hatchL)" stroke="#1a1a1a" stroke-width="1.3" rx="0.6"/>
<rect x="250.30" y="635.30" width="11.70" height="5.70" fill="url(#brickL)" stroke="#1a1a1a" stroke-width="1.3" rx="0.6"/>
<text x="269.50" y="613.90" font-size="9.4" fill="#111">mock</text>
<text x="269.50" y="627.50" font-size="9.4" fill="#111">LPS 50 pg/ml</text>
<text x="269.50" y="641.00" font-size="9.4" fill="#111">gp120 20nM</text>
<text x="50.20" y="696.00" font-size="8.6" font-weight="bold" stroke="#111" stroke-width="0.22" text-anchor="end" transform="rotate(-45 50.20 696.00)" fill="#111">mock</text>
<text x="69.20" y="696.00" font-size="8.6" font-weight="bold" stroke="#111" stroke-width="0.22" text-anchor="end" transform="rotate(-45 69.20 696.00)" fill="#111">heat</text>
<text x="88.20" y="696.00" font-size="8.6" font-weight="bold" stroke="#111" stroke-width="0.22" text-anchor="end" transform="rotate(-45 88.20 696.00)" fill="#111"><tspan font-size="10.5" dy="1.0">β</tspan><tspan font-size="8.6" dy="-1.0">-Mercaptoethanol</tspan></text>
<text x="107.00" y="696.00" font-size="8.6" font-weight="bold" stroke="#111" stroke-width="0.22" text-anchor="end" transform="rotate(-45 107.00 696.00)" fill="#111">cycloheximide</text>
<text x="138.60" y="696.00" font-size="8.6" font-weight="bold" stroke="#111" stroke-width="0.22" text-anchor="end" transform="rotate(-45 138.60 696.00)" fill="#111">mock</text>
<text x="157.40" y="696.00" font-size="8.6" font-weight="bold" stroke="#111" stroke-width="0.22" text-anchor="end" transform="rotate(-45 157.40 696.00)" fill="#111">heat</text>
<text x="176.30" y="696.00" font-size="8.6" font-weight="bold" stroke="#111" stroke-width="0.22" text-anchor="end" transform="rotate(-45 176.30 696.00)" fill="#111"><tspan font-size="10.5" dy="1.0">β</tspan><tspan font-size="8.6" dy="-1.0">-Mercaptoethanol</tspan></text>
<text x="195.20" y="696.00" font-size="8.6" font-weight="bold" stroke="#111" stroke-width="0.22" text-anchor="end" transform="rotate(-45 195.20 696.00)" fill="#111">cycloheximide</text>
<text x="226.50" y="696.00" font-size="8.6" font-weight="bold" stroke="#111" stroke-width="0.22" text-anchor="end" transform="rotate(-45 226.50 696.00)" fill="#111">mock</text>
<text x="245.40" y="696.00" font-size="8.6" font-weight="bold" stroke="#111" stroke-width="0.22" text-anchor="end" transform="rotate(-45 245.40 696.00)" fill="#111">heat</text>
<text x="264.30" y="696.00" font-size="8.6" font-weight="bold" stroke="#111" stroke-width="0.22" text-anchor="end" transform="rotate(-45 264.30 696.00)" fill="#111"><tspan font-size="10.5" dy="1.0">β</tspan><tspan font-size="8.6" dy="-1.0">-Mercaptoethanol</tspan></text>
<text x="283.40" y="696.00" font-size="8.6" font-weight="bold" stroke="#111" stroke-width="0.22" text-anchor="end" transform="rotate(-45 283.40 696.00)" fill="#111">cycloheximide</text>
<text x="370.00" y="542.40" font-size="12.0" font-weight="bold" stroke="#111" stroke-width="0.3" fill="#111">G</text>
<line x1="385.50" y1="567.40" x2="385.50" y2="684.07" stroke="#1a1a1a" stroke-width="1.35"/>
<line x1="382.50" y1="683.50" x2="385.50" y2="683.50" stroke="#1a1a1a" stroke-width="1.35"/>
<text x="380.70" y="686.32" font-size="8.1" font-weight="bold" stroke="#111" stroke-width="0.22" text-anchor="end" fill="#111">0</text>
<line x1="382.50" y1="644.50" x2="385.50" y2="644.50" stroke="#1a1a1a" stroke-width="1.35"/>
<text x="380.70" y="647.65" font-size="8.1" font-weight="bold" stroke="#111" stroke-width="0.22" text-anchor="end" fill="#111">500</text>
<line x1="382.50" y1="606.50" x2="385.50" y2="606.50" stroke="#1a1a1a" stroke-width="1.35"/>
<text x="380.70" y="608.98" font-size="8.1" font-weight="bold" stroke="#111" stroke-width="0.22" text-anchor="end" fill="#111">1000</text>
<line x1="382.50" y1="567.50" x2="385.50" y2="567.50" stroke="#1a1a1a" stroke-width="1.35"/>
<text x="380.70" y="570.32" font-size="8.1" font-weight="bold" stroke="#111" stroke-width="0.22" text-anchor="end" fill="#111">1500</text>
<line x1="383.50" y1="664.50" x2="385.50" y2="664.50" stroke="#1a1a1a" stroke-width="1.35"/>
<line x1="383.50" y1="625.50" x2="385.50" y2="625.50" stroke="#1a1a1a" stroke-width="1.35"/>
<line x1="383.50" y1="586.50" x2="385.50" y2="586.50" stroke="#1a1a1a" stroke-width="1.35"/>
<text x="356.40" y="624.40" font-size="9.8" font-weight="bold" stroke="#111" stroke-width="0.3" text-anchor="middle" transform="rotate(-90 356.40 624.40)" fill="#111">TNF-α (pg/ml)</text>
<line x1="384.82" y1="683.50" x2="654.00" y2="683.50" stroke="#1a1a1a" stroke-width="1.35"/>
<line x1="401.50" y1="683.40" x2="401.50" y2="687.20" stroke="#1a1a1a" stroke-width="1.35"/>
<line x1="420.50" y1="683.40" x2="420.50" y2="687.20" stroke="#1a1a1a" stroke-width="1.35"/>
<line x1="439.50" y1="683.40" x2="439.50" y2="687.20" stroke="#1a1a1a" stroke-width="1.35"/>
<line x1="458.50" y1="683.40" x2="458.50" y2="687.20" stroke="#1a1a1a" stroke-width="1.35"/>
<line x1="490.50" y1="683.40" x2="490.50" y2="687.20" stroke="#1a1a1a" stroke-width="1.35"/>
<line x1="509.50" y1="683.40" x2="509.50" y2="687.20" stroke="#1a1a1a" stroke-width="1.35"/>
<line x1="529.50" y1="683.40" x2="529.50" y2="687.20" stroke="#1a1a1a" stroke-width="1.35"/>
<line x1="548.50" y1="683.40" x2="548.50" y2="687.20" stroke="#1a1a1a" stroke-width="1.35"/>
<line x1="579.50" y1="683.40" x2="579.50" y2="687.20" stroke="#1a1a1a" stroke-width="1.35"/>
<line x1="599.50" y1="683.40" x2="599.50" y2="687.20" stroke="#1a1a1a" stroke-width="1.35"/>
<line x1="618.50" y1="683.40" x2="618.50" y2="687.20" stroke="#1a1a1a" stroke-width="1.35"/>
<line x1="637.50" y1="683.40" x2="637.50" y2="687.20" stroke="#1a1a1a" stroke-width="1.35"/>
<rect x="432.90" y="682.40" width="13.40" height="1.70" fill="#1a1a1a"/>
<rect x="452.00" y="679.60" width="13.40" height="4.50" fill="#1a1a1a"/>
<rect x="453.35" y="680.95" width="10.70" height="1.95" fill="url(#dotD)"/>
<line x1="490.60" y1="582.80" x2="490.60" y2="584.60" stroke="#1a1a1a" stroke-width="1.2"/>
<line x1="486.71" y1="582.80" x2="494.49" y2="582.80" stroke="#1a1a1a" stroke-width="1.5"/>
<rect x="483.90" y="584.10" width="13.40" height="100.00" fill="#1a1a1a"/>
<rect x="485.25" y="585.45" width="10.70" height="97.45" fill="url(#hatchD)"/>
<line x1="509.90" y1="591.50" x2="509.90" y2="602.10" stroke="#1a1a1a" stroke-width="1.2"/>
<line x1="506.01" y1="591.50" x2="513.79" y2="591.50" stroke="#1a1a1a" stroke-width="1.5"/>
<rect x="503.20" y="601.60" width="13.40" height="82.50" fill="#1a1a1a"/>
<rect x="504.55" y="602.95" width="10.70" height="79.95" fill="url(#hatchD)"/>
<text x="509.90" y="585.81" font-size="7.8" text-anchor="middle" fill="#151515">ns</text>
<line x1="529.00" y1="582.50" x2="529.00" y2="583.50" stroke="#1a1a1a" stroke-width="1.2"/>
<line x1="525.11" y1="582.50" x2="532.89" y2="582.50" stroke="#1a1a1a" stroke-width="1.5"/>
<rect x="522.30" y="583.00" width="13.40" height="101.10" fill="#1a1a1a"/>
<rect x="523.65" y="584.35" width="10.70" height="98.55" fill="url(#hatchD)"/>
<text x="529.00" y="576.81" font-size="7.8" text-anchor="middle" fill="#151515">ns</text>
<rect x="541.40" y="673.20" width="13.40" height="10.90" fill="#1a1a1a"/>
<rect x="542.75" y="674.55" width="10.70" height="8.35" fill="url(#hatchD)"/>
<text x="548.10" y="670.00" font-size="10.0" text-anchor="middle" fill="#151515">***</text>
<line x1="579.80" y1="591.30" x2="579.80" y2="594.70" stroke="#1a1a1a" stroke-width="1.2"/>
<line x1="575.91" y1="591.30" x2="583.69" y2="591.30" stroke="#1a1a1a" stroke-width="1.5"/>
<rect x="573.10" y="594.20" width="13.40" height="89.90" fill="#1a1a1a"/>
<rect x="574.45" y="595.55" width="10.70" height="87.35" fill="url(#brickD)"/>
<rect x="592.50" y="681.80" width="13.40" height="2.30" fill="#1a1a1a"/>
<rect x="593.85" y="683.15" width="10.70" height="0.10" fill="url(#brickD)"/>
<text x="599.20" y="678.60" font-size="10.0" text-anchor="middle" fill="#151515">***</text>
<rect x="611.70" y="680.70" width="13.40" height="3.40" fill="#1a1a1a"/>
<rect x="613.05" y="682.05" width="10.70" height="0.85" fill="url(#brickD)"/>
<text x="618.40" y="677.50" font-size="10.0" text-anchor="middle" fill="#151515">***</text>
<rect x="630.80" y="674.50" width="13.40" height="9.60" fill="#1a1a1a"/>
<rect x="632.15" y="675.85" width="10.70" height="7.05" fill="url(#brickD)"/>
<text x="637.50" y="671.30" font-size="10.0" text-anchor="middle" fill="#151515">***</text>
<rect x="606.60" y="592.00" width="12.30" height="5.90" fill="url(#dotD)" stroke="#1a1a1a" stroke-width="1.3" rx="0.6"/>
<rect x="606.60" y="605.40" width="12.30" height="5.90" fill="url(#hatchD)" stroke="#1a1a1a" stroke-width="1.3" rx="0.6"/>
<rect x="606.60" y="618.60" width="12.30" height="5.90" fill="url(#brickD)" stroke="#1a1a1a" stroke-width="1.3" rx="0.6"/>
<text x="626.20" y="597.80" font-size="9.4" fill="#111">mock</text>
<text x="626.20" y="611.40" font-size="9.4" fill="#111">LPS 50 pg/ml</text>
<text x="626.20" y="624.80" font-size="9.4" fill="#111">gp120 20nM</text>
<text x="403.70" y="696.00" font-size="8.6" font-weight="bold" stroke="#111" stroke-width="0.22" text-anchor="end" transform="rotate(-45 403.70 696.00)" fill="#111">mock</text>
<text x="423.00" y="696.00" font-size="8.6" font-weight="bold" stroke="#111" stroke-width="0.22" text-anchor="end" transform="rotate(-45 423.00 696.00)" fill="#111">heat</text>
<text x="442.00" y="696.00" font-size="8.6" font-weight="bold" stroke="#111" stroke-width="0.22" text-anchor="end" transform="rotate(-45 442.00 696.00)" fill="#111"><tspan font-size="10.5" dy="1.0">β</tspan><tspan font-size="8.6" dy="-1.0">-Mercaptoethanol</tspan></text>
<text x="461.10" y="696.00" font-size="8.6" font-weight="bold" stroke="#111" stroke-width="0.22" text-anchor="end" transform="rotate(-45 461.10 696.00)" fill="#111">cycloheximide</text>
<text x="493.00" y="696.00" font-size="8.6" font-weight="bold" stroke="#111" stroke-width="0.22" text-anchor="end" transform="rotate(-45 493.00 696.00)" fill="#111">mock</text>
<text x="512.30" y="696.00" font-size="8.6" font-weight="bold" stroke="#111" stroke-width="0.22" text-anchor="end" transform="rotate(-45 512.30 696.00)" fill="#111">heat</text>
<text x="531.40" y="696.00" font-size="8.6" font-weight="bold" stroke="#111" stroke-width="0.22" text-anchor="end" transform="rotate(-45 531.40 696.00)" fill="#111"><tspan font-size="10.5" dy="1.0">β</tspan><tspan font-size="8.6" dy="-1.0">-Mercaptoethanol</tspan></text>
<text x="550.50" y="696.00" font-size="8.6" font-weight="bold" stroke="#111" stroke-width="0.22" text-anchor="end" transform="rotate(-45 550.50 696.00)" fill="#111">cycloheximide</text>
<text x="582.20" y="696.00" font-size="8.6" font-weight="bold" stroke="#111" stroke-width="0.22" text-anchor="end" transform="rotate(-45 582.20 696.00)" fill="#111">mock</text>
<text x="601.60" y="696.00" font-size="8.6" font-weight="bold" stroke="#111" stroke-width="0.22" text-anchor="end" transform="rotate(-45 601.60 696.00)" fill="#111">heat</text>
<text x="620.80" y="696.00" font-size="8.6" font-weight="bold" stroke="#111" stroke-width="0.22" text-anchor="end" transform="rotate(-45 620.80 696.00)" fill="#111"><tspan font-size="10.5" dy="1.0">β</tspan><tspan font-size="8.6" dy="-1.0">-Mercaptoethanol</tspan></text>
<text x="639.90" y="696.00" font-size="8.6" font-weight="bold" stroke="#111" stroke-width="0.22" text-anchor="end" transform="rotate(-45 639.90 696.00)" fill="#111">cycloheximide</text>
<text x="2.80" y="832.20" font-size="12.0" font-weight="bold" stroke="#111" stroke-width="0.3" fill="#111">H</text>
<line x1="45.50" y1="847.90" x2="45.50" y2="947.47" stroke="#1a1a1a" stroke-width="1.35"/>
<line x1="42.80" y1="946.50" x2="45.30" y2="946.50" stroke="#1a1a1a" stroke-width="1.35"/>
<text x="41.80" y="949.28" font-size="6.9" text-anchor="end" fill="#111">0</text>
<line x1="42.80" y1="913.50" x2="45.30" y2="913.50" stroke="#1a1a1a" stroke-width="1.35"/>
<text x="41.80" y="916.32" font-size="6.9" text-anchor="end" fill="#111">1000</text>
<line x1="42.80" y1="880.50" x2="45.30" y2="880.50" stroke="#1a1a1a" stroke-width="1.35"/>
<text x="41.80" y="883.35" font-size="6.9" text-anchor="end" fill="#111">2000</text>
<line x1="42.80" y1="847.50" x2="45.30" y2="847.50" stroke="#1a1a1a" stroke-width="1.35"/>
<text x="41.80" y="850.38" font-size="6.9" text-anchor="end" fill="#111">3000</text>
<line x1="43.70" y1="930.50" x2="45.30" y2="930.50" stroke="#1a1a1a" stroke-width="1.35"/>
<line x1="43.70" y1="897.50" x2="45.30" y2="897.50" stroke="#1a1a1a" stroke-width="1.35"/>
<line x1="43.70" y1="864.50" x2="45.30" y2="864.50" stroke="#1a1a1a" stroke-width="1.35"/>
<text x="20.50" y="896.50" font-size="8.3" font-weight="bold" stroke="#111" stroke-width="0.22" text-anchor="middle" transform="rotate(-90 20.50 896.50)" fill="#111">TNF-α (pg/ml)</text>
<line x1="44.62" y1="946.50" x2="154.80" y2="946.50" stroke="#1a1a1a" stroke-width="1.35"/>
<line x1="58.50" y1="946.80" x2="58.50" y2="950.60" stroke="#1a1a1a" stroke-width="1.35"/>
<line x1="85.50" y1="946.80" x2="85.50" y2="950.60" stroke="#1a1a1a" stroke-width="1.35"/>
<line x1="113.50" y1="946.80" x2="113.50" y2="950.60" stroke="#1a1a1a" stroke-width="1.35"/>
<line x1="140.50" y1="946.80" x2="140.50" y2="950.60" stroke="#1a1a1a" stroke-width="1.35"/>
<rect x="49.00" y="945.40" width="18.80" height="1.70" fill="#1a1a1a"/>
<rect x="76.50" y="945.40" width="18.80" height="1.70" fill="#1a1a1a"/>
<rect x="104.20" y="946.00" width="18.80" height="1.20" fill="#1a1a1a"/>
<line x1="140.70" y1="865.40" x2="140.70" y2="867.70" stroke="#1a1a1a" stroke-width="1.2"/>
<line x1="135.70" y1="865.40" x2="145.70" y2="865.40" stroke="#1a1a1a" stroke-width="1.5"/>
<rect x="131.30" y="867.20" width="18.80" height="79.90" fill="#1a1a1a"/>
<rect x="132.65" y="868.55" width="16.10" height="77.35" fill="#4a4a4a"/>
<text x="140.70" y="862.98" font-size="8.8" text-anchor="middle" fill="#151515">***</text>
<text x="58.40" y="961.80" font-size="7.3" text-anchor="middle" fill="#151515">-</text>
<text x="85.90" y="961.80" font-size="7.3" text-anchor="middle" fill="#151515">10</text>
<text x="113.60" y="961.80" font-size="7.3" text-anchor="middle" fill="#151515">25</text>
<text x="140.70" y="961.80" font-size="7.3" text-anchor="middle" fill="#151515">PHA</text>
<text x="140.70" y="970.80" font-size="7.3" text-anchor="middle" fill="#151515">+</text>
<text x="140.70" y="981.20" font-size="7.3" text-anchor="middle" fill="#151515">IL-2</text>
<line x1="49.60" y1="968.50" x2="122.30" y2="968.50" stroke="#1a1a1a" stroke-width="1.5"/>
<line x1="49.50" y1="965.80" x2="49.50" y2="971.00" stroke="#1a1a1a" stroke-width="1.5"/>
<line x1="122.50" y1="965.80" x2="122.50" y2="971.00" stroke="#1a1a1a" stroke-width="1.5"/>
<text x="85.50" y="977.60" font-size="9.6" text-anchor="middle" fill="#151515">gp120</text>
<text x="184.40" y="832.90" font-size="11.3" font-weight="bold" stroke="#111" stroke-width="0.3" fill="#111">I</text>
<line x1="208.50" y1="846.90" x2="208.50" y2="953.77" stroke="#1a1a1a" stroke-width="1.35"/>
<line x1="205.00" y1="953.50" x2="208.00" y2="953.50" stroke="#1a1a1a" stroke-width="1.35"/>
<text x="203.50" y="955.62" font-size="7.0" font-weight="bold" stroke="#111" stroke-width="0.15" text-anchor="end" fill="#111">0</text>
<line x1="205.00" y1="926.50" x2="208.00" y2="926.50" stroke="#1a1a1a" stroke-width="1.35"/>
<text x="203.50" y="929.07" font-size="7.0" font-weight="bold" stroke="#111" stroke-width="0.15" text-anchor="end" fill="#111">200</text>
<line x1="205.00" y1="900.50" x2="208.00" y2="900.50" stroke="#1a1a1a" stroke-width="1.35"/>
<text x="203.50" y="902.52" font-size="7.0" font-weight="bold" stroke="#111" stroke-width="0.15" text-anchor="end" fill="#111">400</text>
<line x1="205.00" y1="873.50" x2="208.00" y2="873.50" stroke="#1a1a1a" stroke-width="1.35"/>
<text x="203.50" y="875.97" font-size="7.0" font-weight="bold" stroke="#111" stroke-width="0.15" text-anchor="end" fill="#111">600</text>
<line x1="205.00" y1="846.50" x2="208.00" y2="846.50" stroke="#1a1a1a" stroke-width="1.35"/>
<text x="203.50" y="849.42" font-size="7.0" font-weight="bold" stroke="#111" stroke-width="0.15" text-anchor="end" fill="#111">800</text>
<line x1="206.20" y1="939.50" x2="208.00" y2="939.50" stroke="#1a1a1a" stroke-width="1.35"/>
<line x1="206.20" y1="913.50" x2="208.00" y2="913.50" stroke="#1a1a1a" stroke-width="1.35"/>
<line x1="206.20" y1="886.50" x2="208.00" y2="886.50" stroke="#1a1a1a" stroke-width="1.35"/>
<line x1="206.20" y1="860.50" x2="208.00" y2="860.50" stroke="#1a1a1a" stroke-width="1.35"/>
<text x="189.40" y="900.00" font-size="7.7" font-weight="bold" stroke="#111" stroke-width="0.22" text-anchor="middle" transform="rotate(-90 189.40 900.00)" fill="#111">IL-10 (pg/ml)</text>
<line x1="207.32" y1="953.50" x2="317.80" y2="953.50" stroke="#1a1a1a" stroke-width="1.35"/>
<line x1="222.50" y1="953.10" x2="222.50" y2="956.90" stroke="#1a1a1a" stroke-width="1.35"/>
<line x1="249.50" y1="953.10" x2="249.50" y2="956.90" stroke="#1a1a1a" stroke-width="1.35"/>
<line x1="276.50" y1="953.10" x2="276.50" y2="956.90" stroke="#1a1a1a" stroke-width="1.35"/>
<line x1="303.50" y1="953.10" x2="303.50" y2="956.90" stroke="#1a1a1a" stroke-width="1.35"/>
<line x1="222.30" y1="951.50" x2="222.30" y2="952.50" stroke="#1a1a1a" stroke-width="1.2"/>
<line x1="217.30" y1="951.50" x2="227.30" y2="951.50" stroke="#1a1a1a" stroke-width="1.5"/>
<rect x="212.80" y="952.00" width="19.00" height="2.10" fill="#1a1a1a"/>
<line x1="249.20" y1="951.70" x2="249.20" y2="952.70" stroke="#1a1a1a" stroke-width="1.2"/>
<line x1="244.20" y1="951.70" x2="254.20" y2="951.70" stroke="#1a1a1a" stroke-width="1.5"/>
<rect x="239.70" y="952.20" width="19.00" height="1.90" fill="#1a1a1a"/>
<line x1="276.30" y1="949.40" x2="276.30" y2="950.60" stroke="#1a1a1a" stroke-width="1.2"/>
<line x1="271.30" y1="949.40" x2="281.30" y2="949.40" stroke="#1a1a1a" stroke-width="1.5"/>
<rect x="266.80" y="950.10" width="19.00" height="4.00" fill="#1a1a1a"/>
<rect x="268.15" y="951.45" width="16.30" height="1.45" fill="#cccccc"/>
<line x1="303.30" y1="869.40" x2="303.30" y2="871.20" stroke="#1a1a1a" stroke-width="1.2"/>
<line x1="298.30" y1="869.40" x2="308.30" y2="869.40" stroke="#1a1a1a" stroke-width="1.5"/>
<rect x="293.80" y="870.70" width="19.00" height="83.40" fill="#1a1a1a"/>
<rect x="295.15" y="872.05" width="16.30" height="80.85" fill="#cccccc"/>
<text x="303.30" y="866.48" font-size="8.8" text-anchor="middle" fill="#151515">***</text>
<text x="222.30" y="964.80" font-size="7.2" font-weight="bold" stroke="#111" stroke-width="0.15" text-anchor="middle" fill="#111">-</text>
<text x="249.20" y="964.80" font-size="7.2" font-weight="bold" stroke="#111" stroke-width="0.15" text-anchor="middle" fill="#111">10</text>
<text x="276.30" y="964.80" font-size="7.2" font-weight="bold" stroke="#111" stroke-width="0.15" text-anchor="middle" fill="#111">25</text>
<text x="303.30" y="964.80" font-size="7.2" font-weight="bold" stroke="#111" stroke-width="0.15" text-anchor="middle" fill="#111">PHA</text>
<text x="303.30" y="973.20" font-size="7.2" font-weight="bold" stroke="#111" stroke-width="0.15" text-anchor="middle" fill="#111">+</text>
<text x="303.30" y="982.40" font-size="7.2" font-weight="bold" stroke="#111" stroke-width="0.15" text-anchor="middle" fill="#111">IL-2</text>
<line x1="211.10" y1="970.50" x2="288.20" y2="970.50" stroke="#1a1a1a" stroke-width="1.5"/>
<line x1="211.50" y1="967.60" x2="211.50" y2="972.80" stroke="#1a1a1a" stroke-width="1.5"/>
<line x1="288.50" y1="967.60" x2="288.50" y2="972.80" stroke="#1a1a1a" stroke-width="1.5"/>
<text x="250.00" y="981.30" font-size="9.6" text-anchor="middle" fill="#151515">gp120</text>
<text x="351.50" y="832.70" font-size="11.5" font-weight="bold" stroke="#111" stroke-width="0.3" fill="#111">J</text>
<line x1="381.50" y1="848.90" x2="381.50" y2="952.97" stroke="#1a1a1a" stroke-width="1.35"/>
<line x1="378.20" y1="952.50" x2="381.20" y2="952.50" stroke="#1a1a1a" stroke-width="1.35"/>
<text x="376.60" y="954.82" font-size="7.0" font-weight="bold" stroke="#111" stroke-width="0.15" text-anchor="end" fill="#111">0</text>
<line x1="378.20" y1="917.50" x2="381.20" y2="917.50" stroke="#1a1a1a" stroke-width="1.35"/>
<text x="376.60" y="920.35" font-size="7.0" font-weight="bold" stroke="#111" stroke-width="0.15" text-anchor="end" fill="#111">500</text>
<line x1="378.20" y1="883.50" x2="381.20" y2="883.50" stroke="#1a1a1a" stroke-width="1.35"/>
<text x="376.60" y="885.89" font-size="7.0" font-weight="bold" stroke="#111" stroke-width="0.15" text-anchor="end" fill="#111">1000</text>
<line x1="378.20" y1="848.50" x2="381.20" y2="848.50" stroke="#1a1a1a" stroke-width="1.35"/>
<text x="376.60" y="851.42" font-size="7.0" font-weight="bold" stroke="#111" stroke-width="0.15" text-anchor="end" fill="#111">1500</text>
<line x1="379.40" y1="935.50" x2="381.20" y2="935.50" stroke="#1a1a1a" stroke-width="1.35"/>
<line x1="379.40" y1="900.50" x2="381.20" y2="900.50" stroke="#1a1a1a" stroke-width="1.35"/>
<line x1="379.40" y1="866.50" x2="381.20" y2="866.50" stroke="#1a1a1a" stroke-width="1.35"/>
<text x="355.60" y="900.20" font-size="8.8" font-weight="bold" stroke="#111" stroke-width="0.3" text-anchor="middle" transform="rotate(-90 355.60 900.20)" fill="#111">TNF-α (pg/ml)</text>
<line x1="380.52" y1="952.50" x2="490.00" y2="952.50" stroke="#1a1a1a" stroke-width="1.35"/>
<line x1="408.50" y1="952.30" x2="408.50" y2="955.70" stroke="#1a1a1a" stroke-width="1.35"/>
<line x1="462.50" y1="952.30" x2="462.50" y2="955.70" stroke="#1a1a1a" stroke-width="1.35"/>
<circle cx="392.80" cy="952.30" r="2.4" fill="#111"/>
<circle cx="398.90" cy="952.30" r="2.4" fill="#111"/>
<circle cx="405.40" cy="952.80" r="2.4" fill="#111"/>
<circle cx="411.50" cy="952.80" r="2.4" fill="#111"/>
<circle cx="417.70" cy="952.30" r="2.4" fill="#111"/>
<circle cx="424.10" cy="952.30" r="2.4" fill="#111"/>
<rect x="457.50" y="874.40" width="4.4" height="4.4" fill="#111"/>
<rect x="464.00" y="869.70" width="4.4" height="4.4" fill="#111"/>
<rect x="454.40" y="930.00" width="4.4" height="4.4" fill="#111"/>
<rect x="460.80" y="923.70" width="4.4" height="4.4" fill="#111"/>
<rect x="460.80" y="934.40" width="4.4" height="4.4" fill="#111"/>
<rect x="467.10" y="933.50" width="4.4" height="4.4" fill="#111"/>
<line x1="444.80" y1="912.50" x2="481.30" y2="912.50" stroke="#1a1a1a" stroke-width="1.5"/>
<line x1="462.50" y1="900.80" x2="462.50" y2="925.20" stroke="#1a1a1a" stroke-width="1.4"/>
<line x1="453.20" y1="900.50" x2="472.00" y2="900.50" stroke="#1a1a1a" stroke-width="1.4"/>
<line x1="453.20" y1="925.50" x2="472.00" y2="925.50" stroke="#1a1a1a" stroke-width="1.4"/>
<text x="411.80" y="964.60" font-size="7.6" font-weight="bold" stroke="#111" stroke-width="0.22" text-anchor="end" transform="rotate(-45 411.80 964.60)" fill="#111" letter-spacing="0.55">mock</text>
<text x="465.60" y="963.60" font-size="7.6" font-weight="bold" stroke="#111" stroke-width="0.22" text-anchor="end" transform="rotate(-45 465.60 963.60)" fill="#111" letter-spacing="0.6">gp120</text>
<text x="517.80" y="832.70" font-size="11.5" font-weight="bold" stroke="#111" stroke-width="0.3" fill="#111">K</text>
<line x1="552.50" y1="854.70" x2="552.50" y2="958.38" stroke="#1a1a1a" stroke-width="1.35"/>
<line x1="549.70" y1="957.50" x2="552.70" y2="957.50" stroke="#1a1a1a" stroke-width="1.35"/>
<text x="548.10" y="960.22" font-size="7.0" font-weight="bold" stroke="#111" stroke-width="0.15" text-anchor="end" fill="#111">0</text>
<line x1="549.70" y1="923.50" x2="552.70" y2="923.50" stroke="#1a1a1a" stroke-width="1.35"/>
<text x="548.10" y="925.89" font-size="7.0" font-weight="bold" stroke="#111" stroke-width="0.15" text-anchor="end" fill="#111">200</text>
<line x1="549.70" y1="889.50" x2="552.70" y2="889.50" stroke="#1a1a1a" stroke-width="1.35"/>
<text x="548.10" y="891.55" font-size="7.0" font-weight="bold" stroke="#111" stroke-width="0.15" text-anchor="end" fill="#111">400</text>
<line x1="549.70" y1="854.50" x2="552.70" y2="854.50" stroke="#1a1a1a" stroke-width="1.35"/>
<text x="548.10" y="857.22" font-size="7.0" font-weight="bold" stroke="#111" stroke-width="0.15" text-anchor="end" fill="#111">600</text>
<line x1="550.90" y1="940.50" x2="552.70" y2="940.50" stroke="#1a1a1a" stroke-width="1.35"/>
<line x1="550.90" y1="906.50" x2="552.70" y2="906.50" stroke="#1a1a1a" stroke-width="1.35"/>
<line x1="550.90" y1="871.50" x2="552.70" y2="871.50" stroke="#1a1a1a" stroke-width="1.35"/>
<text x="530.70" y="906.00" font-size="8.6" font-weight="bold" stroke="#111" stroke-width="0.22" text-anchor="middle" transform="rotate(-90 530.70 906.00)" fill="#111">IL-10 (pg/ml)</text>
<line x1="552.03" y1="957.50" x2="674.30" y2="957.50" stroke="#1a1a1a" stroke-width="1.35"/>
<line x1="582.50" y1="957.70" x2="582.50" y2="961.10" stroke="#1a1a1a" stroke-width="1.35"/>
<line x1="643.50" y1="957.70" x2="643.50" y2="961.10" stroke="#1a1a1a" stroke-width="1.35"/>
<circle cx="570.20" cy="952.00" r="2.4" fill="#111"/>
<circle cx="582.50" cy="949.70" r="2.4" fill="#111"/>
<circle cx="576.40" cy="956.90" r="2.4" fill="#111"/>
<circle cx="582.50" cy="957.50" r="2.4" fill="#111"/>
<circle cx="588.60" cy="956.90" r="2.4" fill="#111"/>
<circle cx="594.80" cy="956.90" r="2.4" fill="#111"/>
<rect x="637.90" y="861.30" width="4.4" height="4.4" fill="#111"/>
<rect x="644.50" y="867.00" width="4.4" height="4.4" fill="#111"/>
<rect x="641.40" y="893.40" width="4.4" height="4.4" fill="#111"/>
<rect x="637.90" y="899.10" width="4.4" height="4.4" fill="#111"/>
<rect x="644.50" y="902.80" width="4.4" height="4.4" fill="#111"/>
<rect x="641.40" y="910.80" width="4.4" height="4.4" fill="#111"/>
<line x1="562.10" y1="954.50" x2="602.90" y2="954.50" stroke="#1a1a1a" stroke-width="1.5"/>
<line x1="582.50" y1="953.00" x2="582.50" y2="956.00" stroke="#1a1a1a" stroke-width="1.4"/>
<line x1="570.20" y1="953.50" x2="594.20" y2="953.50" stroke="#1a1a1a" stroke-width="1.4"/>
<line x1="570.20" y1="956.50" x2="594.20" y2="956.50" stroke="#1a1a1a" stroke-width="1.4"/>
<line x1="623.40" y1="891.50" x2="663.60" y2="891.50" stroke="#1a1a1a" stroke-width="1.5"/>
<line x1="643.50" y1="882.90" x2="643.50" y2="899.30" stroke="#1a1a1a" stroke-width="1.4"/>
<line x1="631.60" y1="882.50" x2="654.90" y2="882.50" stroke="#1a1a1a" stroke-width="1.4"/>
<line x1="631.60" y1="899.50" x2="654.90" y2="899.50" stroke="#1a1a1a" stroke-width="1.4"/>
<text x="585.90" y="969.00" font-size="7.6" font-weight="bold" stroke="#111" stroke-width="0.22" text-anchor="end" transform="rotate(-45 585.90 969.00)" fill="#111" letter-spacing="0.55">mock</text>
<text x="645.90" y="968.00" font-size="7.6" font-weight="bold" stroke="#111" stroke-width="0.22" text-anchor="end" transform="rotate(-45 645.90 968.00)" fill="#111" letter-spacing="0.6">gp120</text>
</svg>
</body></html>
